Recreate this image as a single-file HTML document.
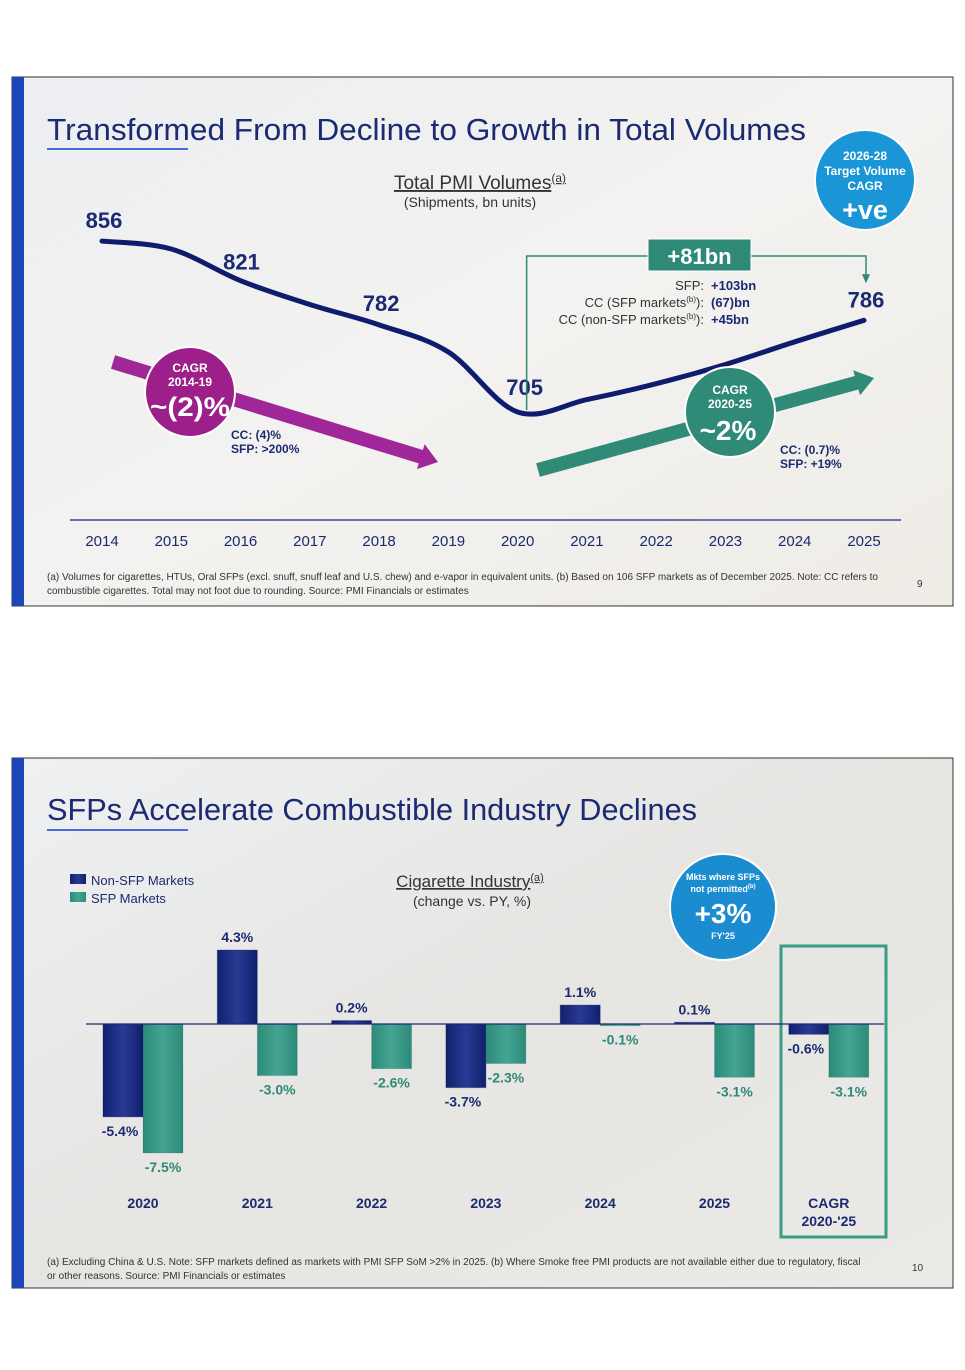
<!DOCTYPE html>
<html><head><meta charset="utf-8"><style>
html,body{margin:0;padding:0;background:#fff;}
body{width:965px;height:1365px;position:relative;overflow:hidden;font-family:"Liberation Sans",sans-serif;}
svg text{font-family:"Liberation Sans",sans-serif;}
</style></head><body>
<svg id="s" width="965" height="1365" viewBox="0 0 965 1365" xmlns="http://www.w3.org/2000/svg">
<defs>
<linearGradient id="bg1" x1="0" y1="0" x2="1" y2="1"><stop offset="0" stop-color="#eceef1"/><stop offset="0.5" stop-color="#f3f2f0"/><stop offset="1" stop-color="#efece6"/></linearGradient>
<linearGradient id="bg2" x1="0" y1="0" x2="1" y2="1"><stop offset="0" stop-color="#eef0f2"/><stop offset="0.5" stop-color="#e6e5e2"/><stop offset="1" stop-color="#ebeae6"/></linearGradient>
<linearGradient id="navyG" x1="0" y1="0" x2="1" y2="0"><stop offset="0" stop-color="#10206e"/><stop offset="0.5" stop-color="#2a3a94"/><stop offset="1" stop-color="#10206e"/></linearGradient>
<linearGradient id="tealG" x1="0" y1="0" x2="1" y2="0"><stop offset="0" stop-color="#2b8a78"/><stop offset="0.5" stop-color="#45a592"/><stop offset="1" stop-color="#2b8a78"/></linearGradient>
</defs>

<!-- SLIDE 1 -->
<g>
<rect x="12" y="77" width="941" height="529" fill="url(#bg1)" stroke="#333" stroke-width="1"/>
<rect x="12" y="77" width="12" height="529" fill="#1d46b8"/>
<text x="47" y="140" font-size="31" fill="#1b2a72" textLength="759" lengthAdjust="spacingAndGlyphs">Transformed From Decline to Growth in Total Volumes</text>
<rect x="47" y="148" width="141" height="2" fill="#4a6ad6"/>
<text x="480" y="189" font-size="19" fill="#333" text-anchor="middle" text-decoration="underline">Total PMI Volumes<tspan font-size="12" dy="-7">(a)</tspan></text>
<text x="470" y="207" font-size="14" fill="#333" text-anchor="middle">(Shipments, bn units)</text>
<line x1="70" y1="520" x2="901" y2="520" stroke="#6a72a8" stroke-width="2"/>
<g id="xt"></g>
<g id="arrows"></g>
<path id="vline" fill="none" stroke="#0f1c6e" stroke-width="5" stroke-linecap="round"/>
<g id="vlab"></g>
<polyline id="brk" fill="none" stroke="#2e8a76" stroke-width="1.5"/>
<polygon id="brkHead" fill="#2e8a76"/>
<rect x="648" y="239" width="103" height="32" fill="#2e8a76" stroke="#fff" stroke-width="1"/>
<text x="699.5" y="264" font-size="22" font-weight="bold" fill="#fff" text-anchor="middle">+81bn</text>
<g font-size="13" fill="#1b2a72">
<text x="704" y="290" text-anchor="end" fill="#333">SFP:</text><text x="711" y="290" font-weight="bold">+103bn</text>
<text x="704" y="307" text-anchor="end" fill="#333">CC (SFP markets<tspan font-size="8" dy="-5">(b)</tspan><tspan dy="5">):</tspan></text><text x="711" y="307" font-weight="bold">(67)bn</text>
<text x="704" y="324" text-anchor="end" fill="#333">CC (non-SFP markets<tspan font-size="8" dy="-5">(b)</tspan><tspan dy="5">):</tspan></text><text x="711" y="324" font-weight="bold">+45bn</text>
</g>
<circle cx="190" cy="392" r="45" fill="#9c1f8a" stroke="#fff" stroke-width="2"/>
<text x="190" y="372" font-size="12" font-weight="bold" fill="#fff" text-anchor="middle">CAGR</text>
<text x="190" y="386" font-size="12" font-weight="bold" fill="#fff" text-anchor="middle">2014-19</text>
<text x="190" y="416" font-size="27" font-weight="bold" fill="#fff" text-anchor="middle" textLength="80" lengthAdjust="spacingAndGlyphs">~(2)%</text>
<text x="231" y="439" font-size="12" font-weight="bold" fill="#1b2a72">CC: (4)%</text>
<text x="231" y="453" font-size="12" font-weight="bold" fill="#1b2a72">SFP: &gt;200%</text>
<circle cx="730" cy="412" r="45" fill="#2f8a77" stroke="#fff" stroke-width="2"/>
<text x="730" y="394" font-size="12" font-weight="bold" fill="#fff" text-anchor="middle">CAGR</text>
<text x="730" y="408" font-size="12" font-weight="bold" fill="#fff" text-anchor="middle">2020-25</text>
<text x="728" y="440" font-size="28" font-weight="bold" fill="#fff" text-anchor="middle">~2%</text>
<text x="780" y="454" font-size="12" font-weight="bold" fill="#1b2a72">CC: (0.7)%</text>
<text x="780" y="468" font-size="12" font-weight="bold" fill="#1b2a72">SFP: +19%</text>
<circle cx="865" cy="180" r="50" fill="#1a95d5" stroke="#fff" stroke-width="2"/>
<text x="865" y="160" font-size="12" font-weight="bold" fill="#fff" text-anchor="middle">2026-28</text>
<text x="865" y="175" font-size="12" font-weight="bold" fill="#fff" text-anchor="middle">Target Volume</text>
<text x="865" y="190" font-size="12" font-weight="bold" fill="#fff" text-anchor="middle">CAGR</text>
<text x="865" y="219" font-size="27" font-weight="bold" fill="#fff" text-anchor="middle">+ve</text>
<text x="47" y="580" font-size="10" fill="#333">(a) Volumes for cigarettes, HTUs, Oral SFPs (excl. snuff, snuff leaf and U.S. chew) and e-vapor in equivalent units. (b) Based on 106 SFP markets as of December 2025. Note: CC refers to</text>
<text x="47" y="594" font-size="10" fill="#333">combustible cigarettes. Total may not foot due to rounding. Source: PMI Financials or estimates</text>
<text x="917" y="587" font-size="10" fill="#333">9</text>
</g>

<!-- SLIDE 2 -->
<g>
<rect x="12" y="758" width="941" height="530" fill="url(#bg2)" stroke="#333" stroke-width="1"/>
<rect x="12" y="758" width="12" height="530" fill="#1d46b8"/>
<text x="47" y="820" font-size="31" fill="#1b2a72" textLength="650" lengthAdjust="spacingAndGlyphs">SFPs Accelerate Combustible Industry Declines</text>
<rect x="47" y="829" width="141" height="2" fill="#4a6ad6"/>
<rect x="70" y="874" width="16" height="10" fill="url(#navyG)"/>
<text x="91" y="885" font-size="13" fill="#1b2a72">Non-SFP Markets</text>
<rect x="70" y="892" width="16" height="10" fill="url(#tealG)"/>
<text x="91" y="903" font-size="13" fill="#1b2a72">SFP Markets</text>
<text x="470" y="887" font-size="17" fill="#333" text-anchor="middle" text-decoration="underline">Cigarette Industry<tspan font-size="11" dy="-6">(a)</tspan></text>
<text x="472" y="906" font-size="14" fill="#333" text-anchor="middle">(change vs. PY, %)</text>
<circle cx="723" cy="907" r="53" fill="#1a8ccf" stroke="#fff" stroke-width="2"/>
<text x="723" y="880" font-size="9" font-weight="bold" fill="#fff" text-anchor="middle">Mkts where SFPs</text>
<text x="723" y="892" font-size="9" font-weight="bold" fill="#fff" text-anchor="middle">not permitted<tspan font-size="6" dy="-4">(b)</tspan></text>
<text x="723" y="923" font-size="28" font-weight="bold" fill="#fff" text-anchor="middle">+3%</text>
<text x="723" y="939" font-size="9" font-weight="bold" fill="#fff" text-anchor="middle">FY'25</text>
<rect x="781" y="946" width="105" height="291" fill="none" stroke="#3a9b86" stroke-width="3"/>
<g id="bars"></g>
<line x1="86" y1="1024" x2="884" y2="1024" stroke="#1b2a72" stroke-width="1.2"/>
<g id="blab"></g>
<text x="47" y="1265" font-size="10" fill="#333">(a) Excluding China &amp; U.S. Note: SFP markets defined as markets with PMI SFP SoM &gt;2% in 2025. (b) Where Smoke free PMI products are not available either due to regulatory, fiscal</text>
<text x="47" y="1279" font-size="10" fill="#333">or other reasons. Source: PMI Financials or estimates</text>
<text x="912" y="1271" font-size="10" fill="#333">10</text>
</g>
</svg>
<script>
// Chart 1 data
const years = ["2014","2015","2016","2017","2018","2019","2020","2021","2022","2023","2024","2025"];
const volumes = [856,849,821,800,782,758,705,716,730,747,767,786];
const labeledYears = ["2014","2016","2018","2020","2025"];
// Chart 2 data
const categories = ["2020","2021","2022","2023","2024","2025","CAGR"];
const nonSfp = [-5.4,4.3,0.2,-3.7,1.1,0.1,-0.6];
const sfp = [-7.5,-3.0,-2.6,-2.3,-0.1,-3.1,-3.1];

const NS="http://www.w3.org/2000/svg";
function mk(tag,attrs,parent,txt){const e=document.createElementNS(NS,tag);for(const k in attrs)e.setAttribute(k,attrs[k]);if(txt!==undefined)e.textContent=txt;parent.appendChild(e);return e;}

const x1=i=>102+i*(864-102)/(years.length-1);
const y1=v=>412-(v-705)*1.132;
const xt=document.getElementById('xt');
years.forEach((y,i)=>{const t=mk('text',{x:x1(i),y:546,'font-size':15,fill:'#1b2a72','text-anchor':'middle'},xt,y);

});
const pts=volumes.map((v,i)=>[x1(i),y1(v)]);
let d='M'+pts[0][0]+','+pts[0][1];
for(let i=0;i<pts.length-1;i++){const p0=pts[Math.max(0,i-1)],p1=pts[i],p2=pts[i+1],p3=pts[Math.min(pts.length-1,i+2)];
d+=' C'+(p1[0]+(p2[0]-p0[0])/6)+','+(p1[1]+(p2[1]-p0[1])/6)+' '+(p2[0]-(p3[0]-p1[0])/6)+','+(p2[1]-(p3[1]-p1[1])/6)+' '+p2[0]+','+p2[1];}
document.getElementById('vline').setAttribute('d',d);
const vlab=document.getElementById('vlab');
const offs={"2014":[2,-13],"2016":[1,-11],"2018":[2,-14],"2020":[7,-17],"2025":[2,-13]};
labeledYears.forEach(y=>{const i=years.indexOf(y);const o=offs[y];
const t=mk('text',{x:x1(i)+o[0],y:y1(volumes[i])+o[1],'font-size':22,'font-weight':'bold',fill:'#1b2a72','text-anchor':'middle'},vlab,String(volumes[i]));

});
const bx0=x1(6)+9,bx1=x1(11)+2,by=256;
document.getElementById('brk').setAttribute('points',bx0+','+(y1(volumes[6])-2)+' '+bx0+','+by+' '+bx1+','+by+' '+bx1+','+(y1(volumes[11])-45));
const hy=y1(volumes[11])-37;
document.getElementById('brkHead').setAttribute('points',(bx1-4)+','+(hy-9)+' '+(bx1+4)+','+(hy-9)+' '+bx1+','+hy);
const ar=document.getElementById('arrows');
function arrow(xa,ya,xb,yb,col,name){const ang=Math.atan2(yb-ya,xb-xa),L=Math.hypot(xb-xa,yb-ya),w=7,hw=13,hl=18;
const c=Math.cos(ang),s=Math.sin(ang);const P=(u,v)=>(xa+u*c-v*s)+','+(ya+u*s+v*c);
const p=mk('polygon',{points:[P(0,-w),P(L-hl,-w),P(L-hl,-hw),P(L,0),P(L-hl,hw),P(L-hl,w),P(0,w)].join(' '),fill:col},ar);

}
arrow(113,362,438,462,'#a0279a','decline-trend-arrow');
arrow(538,470,874,378,'#2f8a77','growth-trend-arrow');

const bw=40,x2=i=>143+i*114.3,y2=v=>1024-v*17.2;
const bars=document.getElementById('bars'),blab=document.getElementById('blab');
categories.forEach((c,i)=>{
 const cx=x2(i);
 [[nonSfp[i],cx-bw,'url(#navyG)','#1b2a72','non-sfp'],[sfp[i],cx,'url(#tealG)','#2e8a76','sfp']].forEach(([v,x,f,tc,nm])=>{
  const yt=Math.min(y2(v),1024),h=Math.abs(y2(v)-1024);
  const r=mk('rect',{x:x,y:yt,width:bw,height:Math.max(h,1),fill:f,stroke:'#0d1650','stroke-opacity':nm==='sfp'?0.1:0.3},bars);
  
  
  const ly=v>=0?y2(v)-8:y2(v)+19;
  const lx=nm==='sfp'?x+bw/2:(v>=0?x+bw/2:x+bw/2-3);
  const t=mk('text',{x:lx,y:ly,'font-size':14,'font-weight':'bold',fill:tc,'text-anchor':'middle'},blab,v.toFixed(1)+'%');
  
  
 });
 const t=mk('text',{x:cx,y:1208,'font-size':14,'font-weight':'bold',fill:'#1b2a72','text-anchor':'middle'},blab,c);
 
 
 if(c==='CAGR'){const t2=mk('text',{x:cx,y:1226,'font-size':14,'font-weight':'bold',fill:'#1b2a72','text-anchor':'middle'},blab,"2020-'25");
 
 }
});
</script>
</body></html>
